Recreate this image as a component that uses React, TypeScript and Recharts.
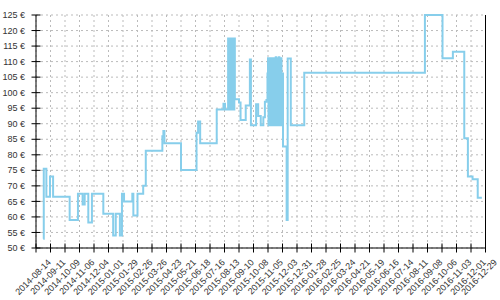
import React from 'react';
import { LineChart, Line, XAxis, YAxis, CartesianGrid, ReferenceLine } from 'recharts';

const priceDates = [
  '2014-07-31', '2014-08-01', '2014-08-06', '2014-08-13', '2014-08-19', '2014-09-20', '2014-10-06',
  '2014-10-15', '2014-10-19', '2014-10-26', '2014-11-02', '2014-11-24', '2014-12-13', '2014-12-18',
  '2014-12-26', '2014-12-30', '2015-01-03', '2015-01-19', '2015-01-21', '2015-01-29', '2015-02-09',
  '2015-02-14', '2015-03-18', '2015-03-20', '2015-03-22', '2015-04-23', '2015-05-23', '2015-05-26',
  '2015-05-30', '2015-07-01', '2015-07-14', '2015-07-17',
  '2015-07-23', '2015-07-24', '2015-07-25', '2015-07-26', '2015-07-27', '2015-07-28', '2015-07-29',
  '2015-07-30', '2015-07-31', '2015-08-01', '2015-08-02', '2015-08-03', '2015-08-04',
  '2015-08-05', '2015-08-13', '2015-08-16', '2015-08-26', '2015-09-03', '2015-09-05', '2015-09-15',
  '2015-09-19', '2015-09-24', '2015-09-29', '2015-10-02', '2015-10-05', '2015-10-07',
  '2015-10-08', '2015-10-09', '2015-10-10', '2015-10-11', '2015-10-12', '2015-10-14', '2015-10-15',
  '2015-10-18', '2015-10-19', '2015-10-20', '2015-10-21', '2015-10-22', '2015-10-23', '2015-10-24',
  '2015-10-25', '2015-10-26', '2015-10-27', '2015-10-28', '2015-10-29', '2015-10-30', '2015-10-31',
  '2015-11-01', '2015-11-02', '2015-11-03', '2015-11-04', '2015-11-05',
  '2015-11-06', '2015-11-13', '2015-11-15', '2015-11-21', '2015-12-17', '2016-08-06', '2016-09-09',
  '2016-09-29', '2016-10-21', '2016-10-28', '2016-11-06', '2016-11-16', '2016-11-24',
];

const priceValues = [
  53, 75.5, 66.5, 73, 66.5, 59, 67.5,
  64, 67.5, 58.2, 67.5, 61, 54, 61,
  54, 67.5, 65, 67.5, 60.5, 67.5, 70,
  81.3, 86, 87.7, 83.7, 75.1, 87.1, 90.7,
  83.7, 94.6, 96.4, 94.6,
  117.4, 94.6, 117.4, 94.6, 117.4, 94.6, 117.4,
  94.6, 117.4, 94.6, 117.4, 94.6, 117.4,
  97.9, 96.8, 91.2, 95.9, 110.7, 89.5, 96.3,
  92.5, 89.5, 92.1, 97.1, 97.6, 106.2,
  111.1, 89.5, 111.1, 89.5, 111.1, 89.5, 111.1,
  89.5, 111.1, 89.5, 111.1, 89.5, 111.4, 89.5,
  111.1, 89.5, 111.1, 89.5, 111.4, 89.5, 111.1,
  89.5, 111.1, 106.2, 89.5, 106.2,
  82.7, 59, 111, 89.5, 106.4, 125, 111.1,
  113.2, 85.3, 73, 72.1, 66.2, 66.2,
];

const xTickLabels = [
  '2014-08-14', '2014-09-11', '2014-10-09', '2014-11-06', '2014-12-04', '2015-01-01', '2015-01-29',
  '2015-02-26', '2015-03-26', '2015-04-23', '2015-05-21', '2015-06-18', '2015-07-16', '2015-08-13',
  '2015-09-10', '2015-10-08', '2015-11-05', '2015-12-03', '2015-12-31', '2016-01-28', '2016-02-25',
  '2016-03-24', '2016-04-21', '2016-05-19', '2016-06-16', '2016-07-14', '2016-08-11', '2016-09-08',
  '2016-10-06', '2016-11-03', '2016-12-01', '2016-12-29',
];

const axisStart = '2014-07-17';
const axisEnd = '2016-12-01';
const yTicks = [50, 55, 60, 65, 70, 75, 80, 85, 90, 95, 100, 105, 110, 115, 120, 125];

const DAY = 86400000;
const toDay = (s: string) => Date.UTC(+s.slice(0, 4), +s.slice(5, 7) - 1, +s.slice(8, 10)) / DAY;
const fromDay = (d: number) => new Date(Math.round(d) * DAY).toISOString().slice(0, 10);

const data = priceDates.map((d, i) => ({ t: toDay(d), price: priceValues[i] }));
const xTicks = [toDay(axisStart), ...xTickLabels.map(toDay)];
const startDay = toDay(axisStart);
const endDay = toDay(axisEnd);

const FONT = '"Liberation Sans", Arial, sans-serif';

const XTick = (props: any) => {
  const { x, y, payload } = props;
  const v = payload.value;
  const label = v === startDay ? '' : fromDay(v);
  const ax = Math.min(x + 1, 497.5);
  const ay = y + 15;
  return (
    <g>
      {v <= endDay && <line x1={x} x2={x} y1={y - 4.5} y2={y + 4.5} stroke="#000" strokeWidth={1} />}
      {label && (
        <text x={ax} y={ay} textAnchor="end" transform={`rotate(-45 ${ax} ${ay})`} fontSize={9} fontFamily={FONT} fill="#333">
          {label}
        </text>
      )}
    </g>
  );
};

const YTick = (props: any) => {
  const { x, y, payload } = props;
  return (
    <g>
      <line x1={x - 4.5} x2={x + 4.5} y1={y} y2={y} stroke="#000" strokeWidth={1} />
      <text x={x - 11} y={y} dy="0.35em" textAnchor="end" fontSize={9} fontFamily={FONT} fill="#333">
        {`${payload.value} €`}
      </text>
    </g>
  );
};

export default function App() {
  return (
    <div style={{ position: 'absolute', left: 0, top: 0 }}>
      <LineChart width={500} height={300} data={data} margin={{ top: 15, right: 14.5, bottom: 0, left: 0 }}>
        <CartesianGrid
          stroke="#bbb"
          strokeDasharray="2 3"
          verticalCoordinatesGenerator={({ offset }: any) =>
            xTicks
              .filter((t) => t <= endDay)
              .map((t) => offset.left + ((t - startDay) / (endDay - startDay)) * offset.width)
          }
        />
        <XAxis
          dataKey="t"
          type="number"
          domain={[startDay, endDay]}
          ticks={xTicks}
          interval={0}
          height={52}
          tickSize={0}
          tickMargin={0}
          tickLine={false}
          axisLine={{ stroke: '#000' }}
          tick={<XTick />}
        />
        <YAxis
          type="number"
          domain={[50, 125]}
          ticks={yTicks}
          interval={0}
          width={36}
          tickSize={0}
          tickMargin={0}
          tickLine={false}
          axisLine={{ stroke: '#000' }}
          tick={<YTick />}
        />
        <ReferenceLine x={endDay} stroke="#000" />
        <Line
          type="stepAfter"
          dataKey="price"
          stroke="#87CEEB"
          strokeWidth={2}
          dot={false}
          isAnimationActive={false}
        />
      </LineChart>
    </div>
  );
}
